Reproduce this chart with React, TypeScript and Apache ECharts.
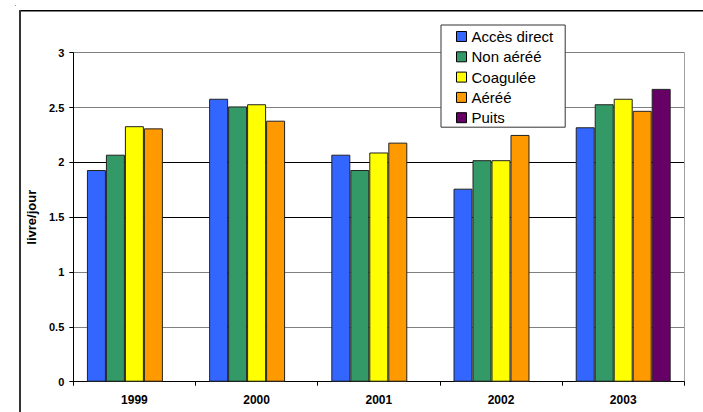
import React, { useEffect, useRef } from "react";
import * as echarts from "echarts";

const years = ["1999", "2000", "2001", "2002", "2003"];
const seriesNames = ["Accès direct", "Non aéréé", "Coagulée", "Aéréé", "Puits"];
const accesDirect = [1.93, 2.58, 2.07, 1.76, 2.32];
const nonAeree = [2.07, 2.51, 1.93, 2.02, 2.53];
const coagulee = [2.33, 2.53, 2.09, 2.02, 2.58];
const aeree = [2.31, 2.38, 2.18, 2.25, 2.47];
const puits = [null, null, null, null, 2.67];
const seriesColors = ["#3366FF", "#339966", "#FFFF00", "#FF9900", "#660066"];

const FONT = "Arial, 'Liberation Sans', sans-serif";

export default function App() {
  const ref = useRef<HTMLDivElement>(null);
  useEffect(() => {
    if (!ref.current) return;
    const chart = echarts.init(ref.current, undefined, { renderer: "svg" });
    const values = [accesDirect, nonAeree, coagulee, aeree, puits];
    chart.setOption({
      animation: false,
      backgroundColor: "#ffffff",
      textStyle: { fontFamily: FONT },
      grid: { left: 73.3, top: 52.7, right: 18.7, bottom: 30.3, containLabel: false },
      legend: {
        orient: "vertical",
        left: 441,
        top: 25,
        padding: [4, 12, 2, 15],
        backgroundColor: "#ffffff",
        borderColor: "#333333",
        borderWidth: 1,
        borderRadius: 0,
        itemWidth: 10,
        itemHeight: 10,
        itemGap: 5.3,
        icon: "rect",
        itemStyle: { borderColor: "#000000", borderWidth: 1 },
        textStyle: { fontFamily: FONT, fontSize: 15, lineHeight: 15, color: "#000" },
        data: seriesNames,
      },
      xAxis: {
        type: "category",
        data: years,
        axisLine: { show: true, lineStyle: { color: "#000", width: 1 } },
        axisTick: { show: true, length: 4, lineStyle: { color: "#000" } },
        axisLabel: { margin: 12, fontSize: 12, fontWeight: "bold", color: "#000", fontFamily: FONT },
        splitLine: { show: false },
      },
      yAxis: [
        {
          type: "value",
          min: 0,
          max: 3,
          interval: 0.5,
          name: "livre/jour",
          nameLocation: "middle",
          nameGap: 34,
          nameRotate: 90,
          nameTextStyle: { fontSize: 13, fontWeight: "bold", color: "#000", fontFamily: FONT },
          axisLine: { show: true, lineStyle: { color: "#000", width: 1 } },
          axisTick: { show: true, length: 4, lineStyle: { color: "#000" } },
          axisLabel: { margin: 9, fontSize: 11, fontWeight: "bold", color: "#000", fontFamily: FONT },
          splitLine: {
            show: true,
            lineStyle: {
              color: ["#000000", "#808080", "#808080", "#000000", "#000000", "#808080", "#808080"],
              width: 1,
            },
          },
        },
        {
          type: "value",
          min: 0,
          max: 3,
          interval: 0.5,
          position: "right",
          axisLine: { show: true, lineStyle: { color: "#a0a0a0", width: 1 } },
          axisTick: { show: false },
          axisLabel: { show: false },
          splitLine: { show: false },
        },
      ],
      series: seriesNames.map((name, i) => ({
        name,
        type: "bar",
        data: values[i],
        barGap: "0%",
        barCategoryGap: "22.3%",
        itemStyle: { color: seriesColors[i], borderColor: "#222222", borderWidth: 1 },
      })),
      graphic: [
        { type: "line", shape: { x1: 20, y1: 10.7, x2: 703, y2: 10.7 }, style: { stroke: "#000", lineWidth: 1.5 } },
        { type: "line", shape: { x1: 20, y1: 10, x2: 20, y2: 412 }, style: { stroke: "#333", lineWidth: 2 } },
        { type: "rect", shape: { x: 15, y: 5, width: 1, height: 1 }, style: { fill: "#999" } },
      ],
    });
    return () => chart.dispose();
  }, []);
  return (
    <div
      ref={ref}
      style={{ position: "fixed", left: 0, top: 0, width: 703, height: 412 }}
    />
  );
}
